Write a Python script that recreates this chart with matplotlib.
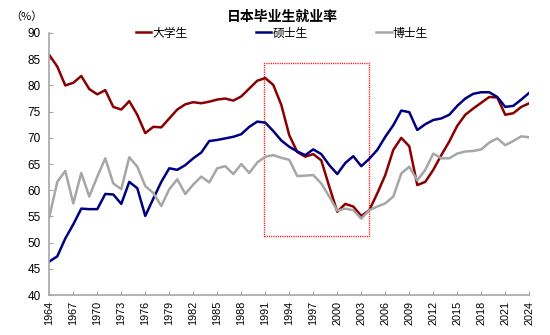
import matplotlib
matplotlib.use('Agg')
import matplotlib.pyplot as plt
from matplotlib.patches import Rectangle
import numpy as np

# ========== 字体设置 ==========
plt.rcParams['font.family'] = ['Liberation Sans', 'Noto Sans CJK SC']
plt.rcParams['axes.unicode_minus'] = False

# ========== 数据 ==========
years = list(range(1964, 2025))

# 大学生
undergrad = [85.8, 83.6, 80.0, 80.5, 81.8, 79.3, 78.3, 79.1, 75.9, 75.4,
             77.0, 74.4, 70.9, 72.1, 72.0, 73.7, 75.4, 76.4, 76.8, 76.6,
             76.9, 77.3, 77.5, 77.1, 77.9, 79.4, 80.9, 81.4, 80.1, 76.3,
             70.5, 67.3, 66.4, 66.9, 65.7, 60.7, 55.9, 57.4, 56.9, 55.1,
             56.2, 59.4, 62.9, 67.7, 70.0, 68.4, 61.0, 61.6, 63.9, 66.7,
             69.3, 72.3, 74.4, 75.6, 76.7, 77.8, 77.7, 74.4, 74.7, 75.9,
             76.6]

# 硕士生
master = [46.4, 47.4, 50.8, 53.5, 56.5, 56.4, 56.4, 59.3, 59.2, 57.4,
          61.6, 60.4, 55.1, 58.4, 61.6, 64.2, 63.9, 64.8, 66.1, 67.2,
          69.4, 69.6, 69.9, 70.2, 70.7, 72.1, 73.1, 72.9, 71.3, 69.5,
          68.3, 67.4, 66.7, 67.8, 66.9, 64.8, 63.1, 65.2, 66.5, 64.6,
          66.0, 67.7, 70.2, 72.4, 75.2, 74.9, 71.5, 72.6, 73.4, 73.7,
          74.4, 76.1, 77.5, 78.4, 78.7, 78.7, 77.8, 75.9, 76.1, 77.3,
          78.6]

# 博士生
doctor = [54.9, 61.6, 63.7, 57.5, 63.3, 58.8, 62.6, 66.1, 61.3, 60.2,
          66.3, 64.5, 60.8, 59.5, 57.0, 60.2, 62.1, 59.3, 61.1, 62.6,
          61.5, 64.2, 64.6, 63.1, 65.0, 63.3, 65.3, 66.4, 66.7, 66.2,
          65.8, 62.7, 62.8, 62.9, 61.3, 58.8, 56.1, 56.5, 56.2, 54.6,
          56.2, 56.9, 57.5, 58.8, 63.2, 64.5, 61.9, 63.9, 67.0, 66.1,
          66.1, 67.0, 67.4, 67.5, 67.8, 69.1, 69.9, 68.6, 69.4, 70.3,
          70.1]

series_names = ['大学生', '硕士生', '博士生']
series_colors = ['#8B0000', '#000080', '#A6A6A6']
xtick_years = list(range(1964, 2025, 3))

# ========== 绘图 ==========
fig = plt.figure(figsize=(5.5, 3.35), dpi=100)
ax = fig.add_axes([0.0896, 0.119, 0.8727, 0.7825])

for vals, name, color in zip([undergrad, master, doctor], series_names, series_colors):
    ax.plot(years, vals, color=color, linewidth=1.8, label=name)

# 红色虚线框（泡沫破裂后的就业冰河期）
rect = Rectangle((1990.8, 51.2), 2004.0 - 1990.8, 84.3 - 51.2,
                 fill=False, edgecolor='#FF0000', linestyle=(0, (0.8, 0.8)),
                 linewidth=1.0)
ax.add_patch(rect)

ax.set_xlim(1964, 2024)
ax.set_ylim(40, 90)
ax.set_yticks(range(40, 91, 5))
ax.set_xticks(xtick_years)
ax.set_xticklabels([str(y) for y in xtick_years], rotation=90, fontsize=7.8)
ax.tick_params(axis='y', labelsize=8.5, direction='in', length=3,
               color='#A6A6A6', pad=6)
ax.tick_params(axis='x', direction='in', length=3, color='#A6A6A6', pad=4)

for side in ['top', 'right']:
    ax.spines[side].set_visible(False)
for side in ['left', 'bottom']:
    ax.spines[side].set_color('#A6A6A6')
    ax.spines[side].set_linewidth(1.2)

# 标题、单位、图例
fig.text(282 / 550, 1 - 17 / 335, '日本毕业生就业率', ha='center', va='center',
         fontsize=10, fontweight='bold', family=['Noto Sans CJK SC'])
fig.text(26 / 550, 1 - 17 / 335, '（%）', ha='center', va='center',
         fontsize=8, family=['Noto Sans CJK SC'])

leg = ax.legend(loc='center', bbox_to_anchor=(282 / 550, 1 - 33 / 335),
                bbox_transform=fig.transFigure, ncol=3, frameon=False,
                handlelength=1.3, handletextpad=0.1, columnspacing=5.8,
                prop={'family': 'Noto Sans CJK SC', 'size': 8.5},
                borderpad=0, borderaxespad=0)
for line in leg.get_lines():
    line.set_linewidth(1.8)

plt.savefig('out.png', dpi=100)
